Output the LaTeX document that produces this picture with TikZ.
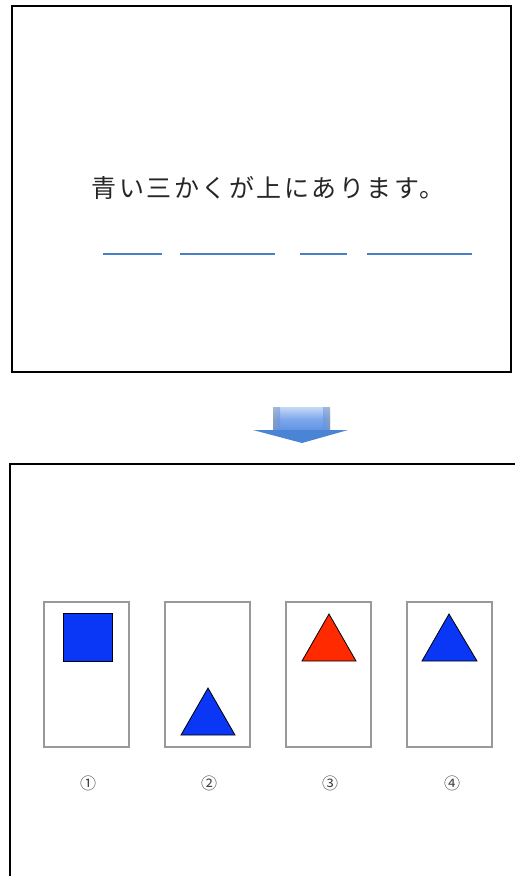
\documentclass[tikz,border=0pt]{standalone}
\usepackage{fontspec}
\newfontfamily\jpfont[LetterSpace=10]{Noto Sans CJK JP}
\newfontfamily\numfont{Noto Sans CJK JP}
\definecolor{lineblue}{HTML}{4A7FC8}
\definecolor{shapeblue}{HTML}{0A36F5}
\definecolor{shapered}{HTML}{FF2A00}
\definecolor{cardgray}{HTML}{999999}
\definecolor{arrowhead}{HTML}{4A84D4}
\definecolor{arrowshaft}{HTML}{5E92E6}
\tikzset{
  frame/.style={draw=black, line width=2pt},
  blank/.style={draw=lineblue, line width=1.6pt},
  card/.style={draw=cardgray, line width=1.2pt, fill=white},
  fig/.style={draw=black, line width=0.8pt, line join=miter},
  num/.style={font=\numfont\fontsize{16}{16}\selectfont, text=black!75, inner sep=0pt}
}
\begin{document}
\begin{tikzpicture}[x=1pt,y=-1pt]
\useasboundingbox (0,0) rectangle (515,876);
\fill[white] (0,0) rectangle (515,876);
% top frame
\draw[frame] (12,6) rectangle (511,372);
\node[font=\jpfont\fontsize{25}{25}\selectfont, text=black!85, inner sep=0pt] (sent) at (268,188) {青い三かくが上にあります。};
% blanks
\coordinate (b1a) at (103,254); \coordinate (b1b) at (162,254);
\coordinate (b2a) at (180,254); \coordinate (b2b) at (275,254);
\coordinate (b3a) at (300,254); \coordinate (b3b) at (347,254);
\coordinate (b4a) at (367,254); \coordinate (b4b) at (472,254);
\draw[blank] (b1a) -- (b1b);
\draw[blank] (b2a) -- (b2b);
\draw[blank] (b3a) -- (b3b);
\draw[blank] (b4a) -- (b4b);
% arrow
\shade[top color=arrowshaft!35, bottom color=arrowshaft, middle color=arrowshaft!80] (273,407) rectangle (330,431);
\shade[left color=black!40, right color=arrowshaft, opacity=0.5] (273,407) rectangle (280,431);
\shade[right color=black!40, left color=arrowshaft, opacity=0.5] (323,407) rectangle (330,431);
\fill[arrowhead] (253,430) -- (348,430) -- (302,443) -- cycle;
% bottom frame (open at right and bottom)
\draw[frame] (10,876) -- (10,464) -- (515,464);
% cards
\node[card, minimum width=85pt, minimum height=145pt, inner sep=0pt] (c1) at (86.5,674.5) {};
\node[card, minimum width=85pt, minimum height=145pt, inner sep=0pt] (c2) at (207.5,674.5) {};
\node[card, minimum width=85pt, minimum height=145pt, inner sep=0pt] (c3) at (328.5,674.5) {};
\node[card, minimum width=85pt, minimum height=145pt, inner sep=0pt] (c4) at (449.5,674.5) {};
% shapes
\draw[fig, fill=shapeblue] (63,613) rectangle (112,661);
\draw[fig, fill=shapeblue] (181,735) -- (208,688) -- (235,735) -- cycle;
\draw[fig, fill=shapered] (302,661) -- (329,614) -- (356,661) -- cycle;
\draw[fig, fill=shapeblue] (422,661) -- (449,614) -- (477,661) -- cycle;
% labels
\node[num] (n1) at (88,783) {①};
\node[num] (n2) at (209,783) {②};
\node[num] (n3) at (330,783) {③};
\node[num] (n4) at (452,783) {④};
\end{tikzpicture}
\end{document}
